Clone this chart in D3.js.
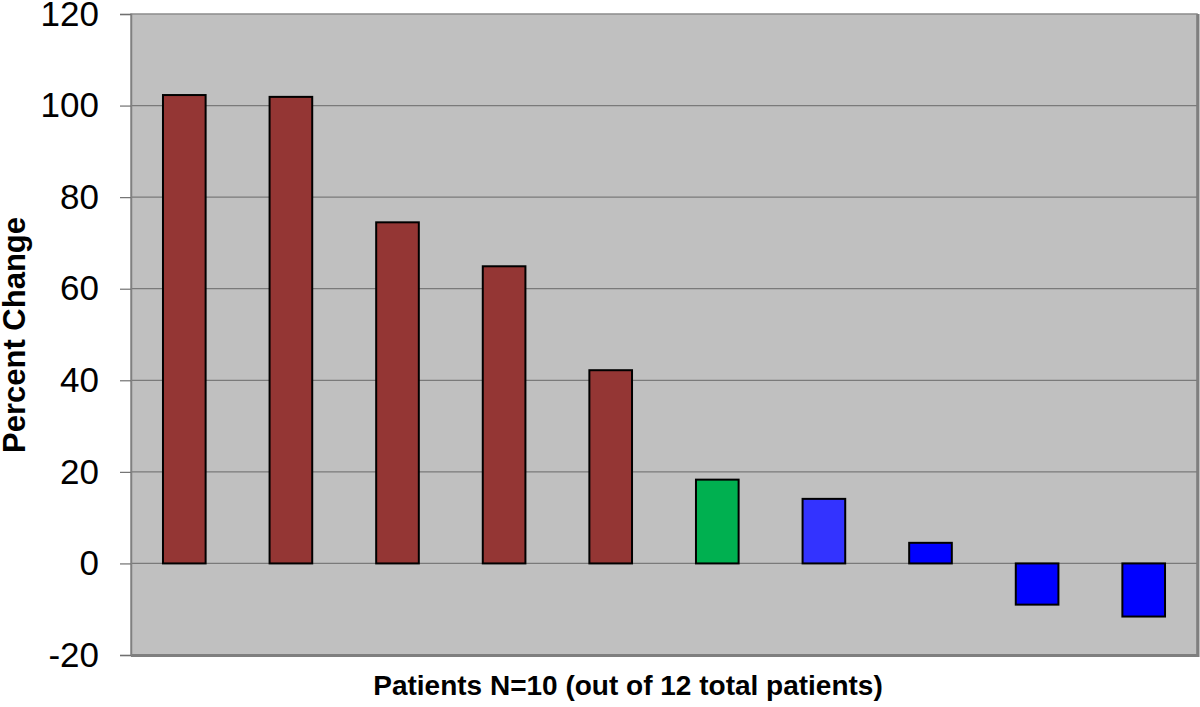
<!DOCTYPE html>
<html>
<head>
<meta charset="utf-8">
<script src="https://cdn.jsdelivr.net/npm/d3@7"></script>
<style>
  body { margin: 0; background: #fff; }
  text { font-family: "Liberation Sans", Arial, sans-serif; }
</style>
</head>
<body>
<div id="chart"></div>
<script>
// chart data
var patients = ["P1", "P2", "P3", "P4", "P5", "P6", "P7", "P8", "P9", "P10"];
var pctChange = [102.3, 101.9, 74.5, 64.9, 42.2, 18.3, 14.1, 4.5, -9.0, -11.6];
var barColors = ["#943634", "#943634", "#943634", "#943634", "#943634",
                 "#00B050", "#3333FF", "#0000FF", "#0000FF", "#0000FF"];
var yTicks = [-20, 0, 20, 40, 60, 80, 100, 120];

var svgWidth = 1200;
var svgHeight = 707;
var margin = { top: 14, right: 3, bottom: 52, left: 131 };
var width = svgWidth - margin.left - margin.right;
var height = svgHeight - margin.top - margin.bottom;

var svg = d3.select("#chart")
  .append("svg")
  .attr("width", svgWidth)
  .attr("height", svgHeight);

var chartGroup = svg.append("g")
  .attr("transform", `translate(${margin.left}, ${margin.top})`);

var xScale = d3.scaleBand()
  .domain(patients)
  .range([0, width])
  .paddingInner(0.6)
  .paddingOuter(0.3);

var yScale = d3.scaleLinear()
  .domain([-20, 120])
  .range([height, 0]);

// plot background
chartGroup.append("rect")
  .attr("width", width)
  .attr("height", height)
  .attr("fill", "#C0C0C0")
  .attr("stroke", "#8c8c8c")
  .attr("stroke-width", 1.5);

// gridlines
chartGroup.append("g")
  .selectAll("line")
  .data(yTicks.filter(d => d > -20 && d < 120))
  .enter()
  .append("line")
  .attr("x1", 0)
  .attr("x2", width)
  .attr("y1", d => yScale(d))
  .attr("y2", d => yScale(d))
  .attr("stroke", "#7a7a7a")
  .attr("stroke-width", 1.2);

// shadow edges right and bottom
chartGroup.append("line")
  .attr("x1", width + 1).attr("x2", width + 1)
  .attr("y1", 0).attr("y2", height + 2)
  .attr("stroke", "#7f7f7f").attr("stroke-width", 3);
chartGroup.append("line")
  .attr("x1", 0).attr("x2", width + 2)
  .attr("y1", height + 0.5).attr("y2", height + 0.5)
  .attr("stroke", "#7f7f7f").attr("stroke-width", 3);

// y axis (plain hyphen for negatives, like the original)
var leftAxis = d3.axisLeft(yScale)
  .tickValues(yTicks)
  .tickFormat(d => String(d))
  .tickSize(11)
  .tickPadding(21);

var yAxisG = chartGroup.append("g").call(leftAxis);
yAxisG.select(".domain").attr("stroke", "#808080").attr("stroke-width", 1.5);
yAxisG.selectAll(".tick line").attr("stroke", "#707070").attr("stroke-width", 1.2);
yAxisG.selectAll(".tick text")
  .attr("font-size", "35px")
  .attr("fill", "#000")
  .style("font-family", "'Liberation Sans', Arial, sans-serif");

// bars
chartGroup.selectAll(".bar")
  .data(pctChange)
  .enter()
  .append("rect")
  .attr("class", "bar")
  .attr("x", (d, i) => xScale(patients[i]))
  .attr("width", xScale.bandwidth())
  .attr("y", d => yScale(Math.max(0, d)))
  .attr("height", d => Math.abs(yScale(d) - yScale(0)))
  .attr("fill", (d, i) => barColors[i])
  .attr("stroke", "#000")
  .attr("stroke-width", 2);

// axis labels
svg.append("text")
  .attr("transform", "translate(25, 335) rotate(-90)")
  .attr("text-anchor", "middle")
  .attr("font-size", "31px")
  .attr("font-weight", "bold")
  .text("Percent Change");

svg.append("text")
  .attr("x", 628)
  .attr("y", 695)
  .attr("text-anchor", "middle")
  .attr("font-size", "28px")
  .attr("font-weight", "bold")
  .text("Patients N=10 (out of 12 total patients)");
</script>
</body>
</html>
